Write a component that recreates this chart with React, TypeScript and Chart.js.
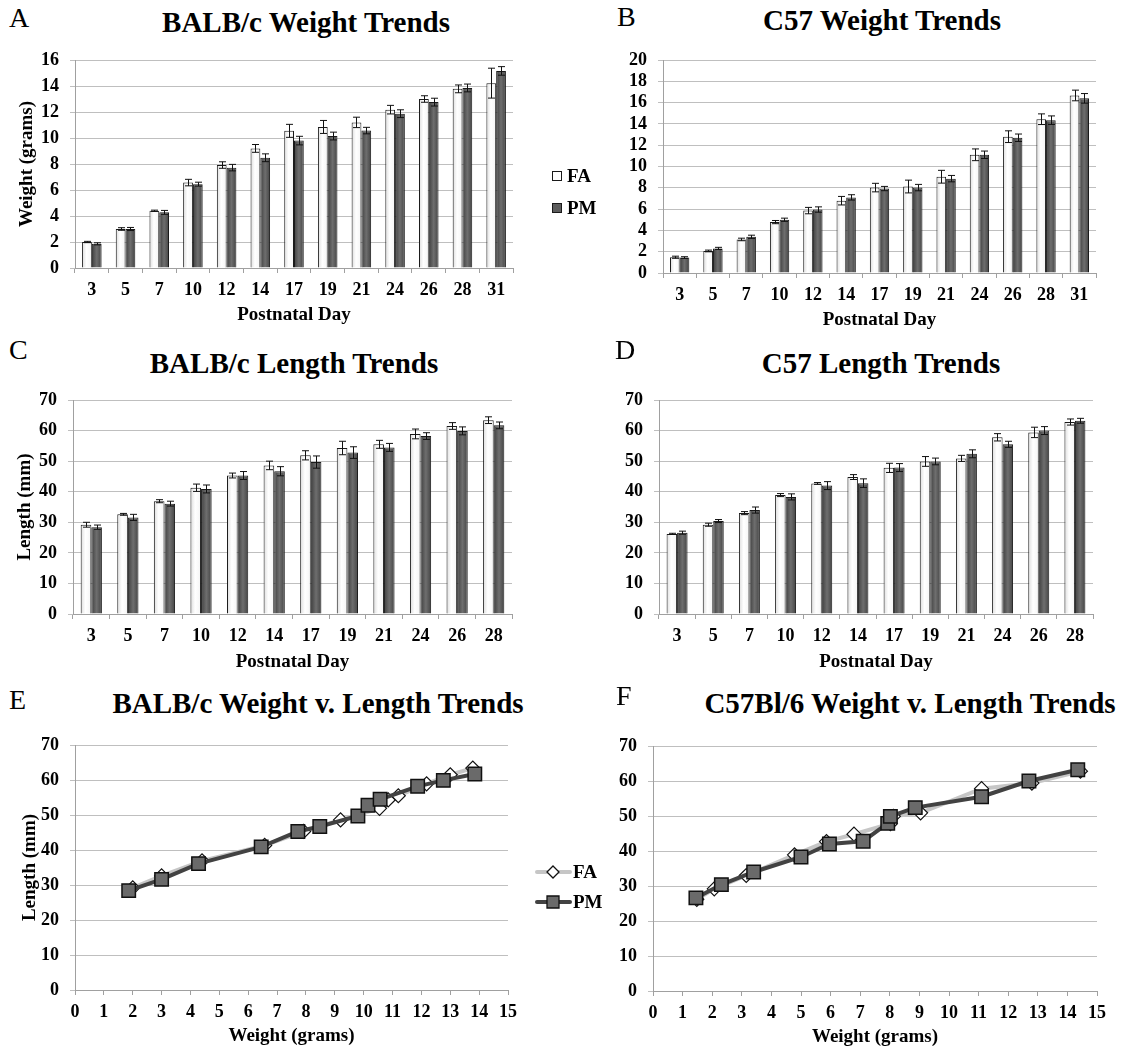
import React, { useEffect, useRef } from 'react';
import { Chart, registerables } from 'chart.js';

Chart.register(...registerables);

const FONT = "'Liberation Serif', 'Times New Roman', Times, serif";

// ---------- data ----------
const daysWeight = ['3', '5', '7', '10', '12', '14', '17', '19', '21', '24', '26', '28', '31'];
const daysLength = ['3', '5', '7', '10', '12', '14', '17', '19', '21', '24', '26', '28'];

const balbWeightFA = [2.0, 3.0, 4.4, 6.57, 7.92, 9.2, 10.55, 10.85, 11.2, 12.18, 13.0, 13.78, 14.22];
const balbWeightFAErr = [0.05, 0.1, 0.05, 0.25, 0.25, 0.3, 0.5, 0.5, 0.4, 0.33, 0.25, 0.3, 1.15];
const balbWeightPM = [1.86, 3.0, 4.28, 6.45, 7.72, 8.48, 9.8, 10.15, 10.57, 11.87, 12.76, 13.85, 15.16];
const balbWeightPMErr = [0.08, 0.12, 0.15, 0.15, 0.25, 0.3, 0.33, 0.3, 0.25, 0.3, 0.3, 0.3, 0.33];

const c57WeightFA = [1.48, 2.07, 3.15, 4.78, 5.86, 6.79, 8.02, 8.12, 9.04, 11.1, 12.8, 14.44, 16.67];
const c57WeightFAErr = [0.1, 0.08, 0.12, 0.15, 0.3, 0.4, 0.4, 0.6, 0.6, 0.55, 0.55, 0.5, 0.5];
const c57WeightPM = [1.45, 2.31, 3.4, 5.0, 5.96, 7.1, 7.93, 8.02, 8.86, 11.1, 12.7, 14.35, 16.4];
const c57WeightPMErr = [0.08, 0.1, 0.15, 0.15, 0.25, 0.25, 0.2, 0.3, 0.3, 0.35, 0.35, 0.4, 0.45];

const balbLengthFA = [29.2, 32.6, 36.9, 41.3, 45.3, 48.6, 51.9, 54.3, 55.5, 58.9, 61.5, 63.4];
const balbLengthFAErr = [0.8, 0.3, 0.5, 1.2, 0.8, 1.4, 1.5, 2.2, 1.3, 1.6, 1.1, 1.1];
const balbLengthPM = [28.4, 31.6, 36.1, 40.9, 45.3, 46.7, 49.7, 52.8, 54.5, 58.2, 59.9, 61.7];
const balbLengthPMErr = [0.7, 1.0, 0.8, 1.3, 1.3, 1.5, 2.0, 1.9, 1.3, 1.1, 1.3, 1.1];

const c57LengthFA = [26.2, 29.2, 33.0, 38.9, 42.7, 44.8, 47.8, 49.9, 50.9, 57.8, 59.4, 62.8];
const c57LengthFAErr = [0.2, 0.5, 0.5, 0.5, 0.3, 0.8, 1.5, 1.6, 1.0, 1.2, 1.7, 1.0];
const c57LengthPM = [26.6, 30.4, 34.0, 38.3, 42.0, 42.8, 47.9, 49.9, 52.4, 55.5, 60.0, 63.2];
const c57LengthPMErr = [0.5, 0.5, 1.0, 1.0, 1.3, 1.4, 1.3, 1.1, 1.3, 1.0, 1.3, 0.8];

const seriesNames = ['FA', 'PM'];

// ---------- styles ----------
const FA_FILL = '#ffffff';
const PM_FILL = '#5c5c5c';
const FA_STOPS: [number, string][] = [[0, '#dcdcdc'], [0.45, '#ffffff'], [1, '#f4f4f4']];
const PM_STOPS: [number, string][] = [[0, '#3f3f3f'], [0.5, '#6e6e6e'], [1, '#444444']];
const EDGE = '#1a1a1a';
const GRID = '#bfbfbf';
const AXIS = '#a0a0a0';
const CAT_PCT = 0.58;
const tickFont = { family: FONT, size: 18, weight: 'bold' as const };
const yTickFont = { family: FONT, size: 18, weight: 'bold' as const, lineHeight: 1 };
const axisTitleFont = { family: FONT, size: 19, weight: 'bold' as const };

function barFill(solid: string, stops: [number, string][]) {
  return (c: any) => {
    const chart = c.chart;
    const xs = chart.scales && chart.scales.x;
    if (!xs || c.dataIndex === undefined || !chart.data.labels) return solid;
    const n = chart.data.labels.length;
    const cw = (xs.right - xs.left) / n;
    const bw = (cw * CAT_PCT) / 2;
    const center = xs.getPixelForValue(c.dataIndex);
    if (!isFinite(center) || !isFinite(bw) || bw <= 0) return solid;
    const left = c.datasetIndex === 0 ? center - bw : center;
    const g = chart.ctx.createLinearGradient(left, 0, left + bw, 0);
    stops.forEach(([o, col]) => g.addColorStop(o, col));
    return g;
  };
}

// ---------- plugins ----------
const errorBars = {
  id: 'errorBars',
  afterDatasetsDraw(chart: any) {
    const ctx = chart.ctx;
    const yScale = chart.scales.y;
    chart.data.datasets.forEach((ds: any, i: number) => {
      if (!ds.errors) return;
      const meta = chart.getDatasetMeta(i);
      ctx.save();
      ctx.strokeStyle = '#111';
      ctx.lineWidth = 1;
      meta.data.forEach((bar: any, j: number) => {
        const v = ds.data[j];
        const e = ds.errors[j];
        const x = Math.round(bar.x) + 0.5;
        const yTop = yScale.getPixelForValue(v + e);
        const yBot = yScale.getPixelForValue(v - e);
        ctx.beginPath();
        ctx.moveTo(x, yTop);
        ctx.lineTo(x, yBot);
        ctx.moveTo(x - 3.5, yTop);
        ctx.lineTo(x + 3.5, yTop);
        ctx.moveTo(x - 3.5, yBot);
        ctx.lineTo(x + 3.5, yBot);
        ctx.stroke();
      });
      ctx.restore();
    });
  },
};

const sideLegend = {
  id: 'sideLegend',
  afterDraw(chart: any, _args: any, opts: any) {
    if (!opts || !opts.items) return;
    const ctx = chart.ctx;
    ctx.save();
    opts.items.forEach((it: any) => {
      const x = it.x - opts.offsetX;
      const y = it.y - opts.offsetY;
      if (opts.kind === 'box') {
        ctx.fillStyle = it.fill;
        ctx.strokeStyle = EDGE;
        ctx.lineWidth = 1;
        ctx.fillRect(x, y - 5, 10, 10);
        ctx.strokeRect(x + 0.5, y - 4.5, 9, 9);
        ctx.fillStyle = '#000';
        ctx.font = `bold 19px ${FONT}`;
        ctx.textAlign = 'left';
        ctx.textBaseline = 'middle';
        ctx.fillText(it.label, x + 15, y + 1);
      } else {
        ctx.strokeStyle = it.line;
        ctx.lineWidth = 4;
        ctx.lineCap = 'round';
        ctx.beginPath();
        ctx.moveTo(x, y);
        ctx.lineTo(x + 33, y);
        ctx.stroke();
        const cx = x + 16;
        ctx.fillStyle = it.fill;
        ctx.strokeStyle = '#111';
        ctx.lineWidth = 1.3;
        ctx.beginPath();
        if (it.marker === 'diamond') {
          ctx.moveTo(cx, y - 6);
          ctx.lineTo(cx + 6, y);
          ctx.lineTo(cx, y + 6);
          ctx.lineTo(cx - 6, y);
          ctx.closePath();
        } else {
          ctx.rect(cx - 6, y - 6, 12, 12);
        }
        ctx.fill();
        ctx.stroke();
        ctx.fillStyle = '#000';
        ctx.font = `bold 19px ${FONT}`;
        ctx.textAlign = 'left';
        ctx.textBaseline = 'middle';
        ctx.fillText(it.label, x + 36, y + 1);
      }
    });
    ctx.restore();
  },
};

// ---------- panel layouts ----------
type Panel = {
  box: { left: number; top: number; width: number; height: number };
  area: { l: number; t: number; r: number; b: number };
  xLabelY: number;
  xTitleY: number;
  yTitleX?: number;
};

const LH_TICK = 18 * 1.2;
const LH_TITLE = 19 * 1.2;

function scaleLayout(p: Panel) {
  const bottom = p.box.top + p.box.height;
  return {
    yWidth: p.area.l - p.box.left,
    xHeight: bottom - p.area.b,
    xTickPad: p.xLabelY - p.area.b - 5 - LH_TICK / 2,
    xTitlePad: Math.max(0, bottom - p.xTitleY - LH_TITLE / 2),
    yTitlePad: p.yTitleX !== undefined ? Math.max(0, p.yTitleX - p.box.left - LH_TITLE / 2) : 0,
    padTop: p.area.t - p.box.top,
    padRight: p.box.left + p.box.width - p.area.r,
  };
}

function yAxis(p: Panel, max: number, step: number, title?: string) {
  const L = scaleLayout(p);
  return {
    min: 0,
    max,
    ticks: { stepSize: step, font: yTickFont, color: '#000', padding: 11, maxTicksLimit: 40 },
    grid: { color: GRID, tickLength: 5, drawTicks: true, lineWidth: 1 },
    border: { color: AXIS },
    title: {
      display: !!title,
      text: title || '',
      font: axisTitleFont,
      color: '#000',
      padding: { top: L.yTitlePad, bottom: 0 },
    },
    afterFit: (s: any) => {
      s.width = L.yWidth;
    },
  };
}

function xTitle(p: Panel, text: string) {
  const L = scaleLayout(p);
  return {
    display: true,
    text,
    font: axisTitleFont,
    color: '#000',
    padding: { top: 0, bottom: L.xTitlePad },
  };
}

function barConfig(p: Panel, labels: string[], fa: number[], faErr: number[], pm: number[], pmErr: number[], yMax: number, yStep: number, yTitle: string | undefined, legend: any) {
  const L = scaleLayout(p);
  return {
    type: 'bar',
    data: {
      labels,
      datasets: [
        { label: seriesNames[0], data: fa, errors: faErr, backgroundColor: barFill(FA_FILL, FA_STOPS), borderColor: EDGE, borderWidth: 1, categoryPercentage: CAT_PCT, barPercentage: 1.0 },
        { label: seriesNames[1], data: pm, errors: pmErr, backgroundColor: barFill(PM_FILL, PM_STOPS), borderColor: EDGE, borderWidth: 1, categoryPercentage: CAT_PCT, barPercentage: 1.0 },
      ],
    },
    options: {
      responsive: false,
      animation: false,
      devicePixelRatio: 1,
      layout: { padding: { top: L.padTop, right: L.padRight, left: 0, bottom: 0 } },
      plugins: { legend: { display: false }, tooltip: { enabled: false }, title: { display: false }, sideLegend: legend },
      scales: {
        x: {
          type: 'category',
          ticks: { font: tickFont, color: '#000', padding: L.xTickPad, maxRotation: 0, autoSkip: false },
          grid: { drawOnChartArea: false, drawTicks: true, tickLength: 5, color: AXIS, offset: true },
          border: { color: AXIS },
          title: xTitle(p, 'Postnatal Day'),
          afterFit: (s: any) => {
            s.height = L.xHeight;
          },
        },
        y: yAxis(p, yMax, yStep, yTitle),
      },
    },
    plugins: [errorBars, sideLegend],
  };
}

function lineConfig(p: Panel, fa: { x: number; y: number }[], pm: { x: number; y: number }[], yTitle: string | undefined, legend: any) {
  const L = scaleLayout(p);
  return {
    type: 'line',
    data: {
      datasets: [
        {
          label: seriesNames[0], data: fa, order: 1, borderColor: '#c6c6c6', borderWidth: 4, tension: 0,
          pointStyle: 'rectRot', pointRadius: 7, pointBackgroundColor: '#ffffff', pointBorderColor: '#111', pointBorderWidth: 1.2,
        },
        {
          label: seriesNames[1], data: pm, order: 0, borderColor: '#424242', borderWidth: 4, tension: 0,
          pointStyle: 'rect', pointRadius: 9.5, pointBackgroundColor: '#6a6a6a', pointBorderColor: '#111', pointBorderWidth: 1.5,
        },
      ],
    },
    options: {
      responsive: false,
      animation: false,
      devicePixelRatio: 1,
      layout: { padding: { top: L.padTop, right: L.padRight, left: 0, bottom: 0 } },
      plugins: { legend: { display: false }, tooltip: { enabled: false }, title: { display: false }, sideLegend: legend },
      scales: {
        x: {
          type: 'linear',
          min: 0,
          max: 15,
          ticks: { stepSize: 1, font: tickFont, color: '#000', padding: L.xTickPad, maxRotation: 0, maxTicksLimit: 40 },
          grid: { drawOnChartArea: false, drawTicks: true, tickLength: 5, color: AXIS },
          border: { color: AXIS },
          title: xTitle(p, 'Weight (grams)'),
          afterFit: (s: any) => {
            s.height = L.xHeight;
          },
        },
        y: yAxis(p, 70, 10, yTitle),
      },
    },
    plugins: [sideLegend],
  };
}

// ---------- panel geometry ----------
const pA: Panel = { box: { left: 0, top: 40, width: 605, height: 290 }, area: { l: 75, t: 57, r: 513, b: 268 }, xLabelY: 290, xTitleY: 315, yTitleX: 27 };
const pB: Panel = { box: { left: 605, top: 40, width: 523, height: 300 }, area: { l: 663, t: 57, r: 1096, b: 273 }, xLabelY: 295, xTitleY: 320 };
const pC: Panel = { box: { left: 0, top: 380, width: 570, height: 300 }, area: { l: 73, t: 398, r: 512, b: 614 }, xLabelY: 636, xTitleY: 662, yTitleX: 25 };
const pD: Panel = { box: { left: 605, top: 380, width: 523, height: 300 }, area: { l: 659, t: 398, r: 1093, b: 614 }, xLabelY: 636, xTitleY: 662 };
const pE: Panel = { box: { left: 0, top: 725, width: 605, height: 325 }, area: { l: 75, t: 744, r: 508, b: 990 }, xLabelY: 1012, xTitleY: 1036, yTitleX: 30 };
const pF: Panel = { box: { left: 605, top: 725, width: 523, height: 325 }, area: { l: 653, t: 746, r: 1097, b: 991 }, xLabelY: 1013, xTitleY: 1037 };

const barLegend = {
  kind: 'box',
  offsetX: pA.box.left,
  offsetY: pA.box.top,
  items: [
    { label: seriesNames[0], fill: FA_FILL, x: 552, y: 176 },
    { label: seriesNames[1], fill: PM_FILL, x: 552, y: 208 },
  ],
};

const lineLegend = {
  kind: 'line',
  offsetX: pE.box.left,
  offsetY: pE.box.top,
  items: [
    { label: seriesNames[0], fill: '#ffffff', line: '#c6c6c6', marker: 'diamond', x: 537, y: 872 },
    { label: seriesNames[1], fill: '#6a6a6a', line: '#424242', marker: 'square', x: 537, y: 902 },
  ],
};

const pairs = (w: number[], l: number[]) => l.map((len, i) => ({ x: w[i], y: len }));

function ChartCanvas({ panel, config }: { panel: Panel; config: any }) {
  const ref = useRef<HTMLCanvasElement | null>(null);
  useEffect(() => {
    if (!ref.current) return;
    const chart = new Chart(ref.current, config);
    return () => chart.destroy();
  }, []);
  return (
    <canvas
      ref={ref}
      width={panel.box.width}
      height={panel.box.height}
      style={{ position: 'absolute', left: panel.box.left, top: panel.box.top, width: panel.box.width, height: panel.box.height }}
    />
  );
}

function Title({ text, cx, cy }: { text: string; cx: number; cy: number }) {
  return (
    <div
      style={{
        position: 'absolute', left: cx, top: cy, transform: 'translate(-50%, -50%)',
        font: `bold 29px ${FONT}`, lineHeight: 1, whiteSpace: 'nowrap', color: '#000',
      }}
    >
      {text}
    </div>
  );
}

function Letter({ text, x, cy }: { text: string; x: number; cy: number }) {
  return (
    <div
      style={{
        position: 'absolute', left: x, top: cy, transform: 'translateY(-50%)',
        font: `28px ${FONT}`, lineHeight: 1, color: '#000',
      }}
    >
      {text}
    </div>
  );
}

export default function App() {
  const cfgA = barConfig(pA, daysWeight, balbWeightFA, balbWeightFAErr, balbWeightPM, balbWeightPMErr, 16, 2, 'Weight (grams)', barLegend);
  const cfgB = barConfig(pB, daysWeight, c57WeightFA, c57WeightFAErr, c57WeightPM, c57WeightPMErr, 20, 2, undefined, undefined);
  const cfgC = barConfig(pC, daysLength, balbLengthFA, balbLengthFAErr, balbLengthPM, balbLengthPMErr, 70, 10, 'Length (mm)', undefined);
  const cfgD = barConfig(pD, daysLength, c57LengthFA, c57LengthFAErr, c57LengthPM, c57LengthPMErr, 70, 10, undefined, undefined);
  const cfgE = lineConfig(pE, pairs(balbWeightFA, balbLengthFA), pairs(balbWeightPM, balbLengthPM), 'Length (mm)', lineLegend);
  const cfgF = lineConfig(pF, pairs(c57WeightFA, c57LengthFA), pairs(c57WeightPM, c57LengthPM), undefined, undefined);

  return (
    <div style={{ position: 'absolute', left: 0, top: 0, width: 1128, height: 1050, background: '#fff', overflow: 'hidden' }}>
      <ChartCanvas panel={pA} config={cfgA} />
      <ChartCanvas panel={pB} config={cfgB} />
      <ChartCanvas panel={pC} config={cfgC} />
      <ChartCanvas panel={pD} config={cfgD} />
      <ChartCanvas panel={pE} config={cfgE} />
      <ChartCanvas panel={pF} config={cfgF} />
      <Letter text="A" x={9} cy={18} />
      <Letter text="B" x={617} cy={17} />
      <Letter text="C" x={9} cy={350} />
      <Letter text="D" x={615} cy={350} />
      <Letter text="E" x={9} cy={700} />
      <Letter text="F" x={616} cy={696} />
      <Title text="BALB/c Weight Trends" cx={306} cy={22} />
      <Title text="C57 Weight Trends" cx={882} cy={20} />
      <Title text="BALB/c Length Trends" cx={294} cy={363} />
      <Title text="C57 Length Trends" cx={881} cy={363} />
      <Title text="BALB/c Weight v. Length Trends" cx={318} cy={703} />
      <Title text="C57Bl/6 Weight v. Length Trends" cx={910} cy={703} />
    </div>
  );
}
